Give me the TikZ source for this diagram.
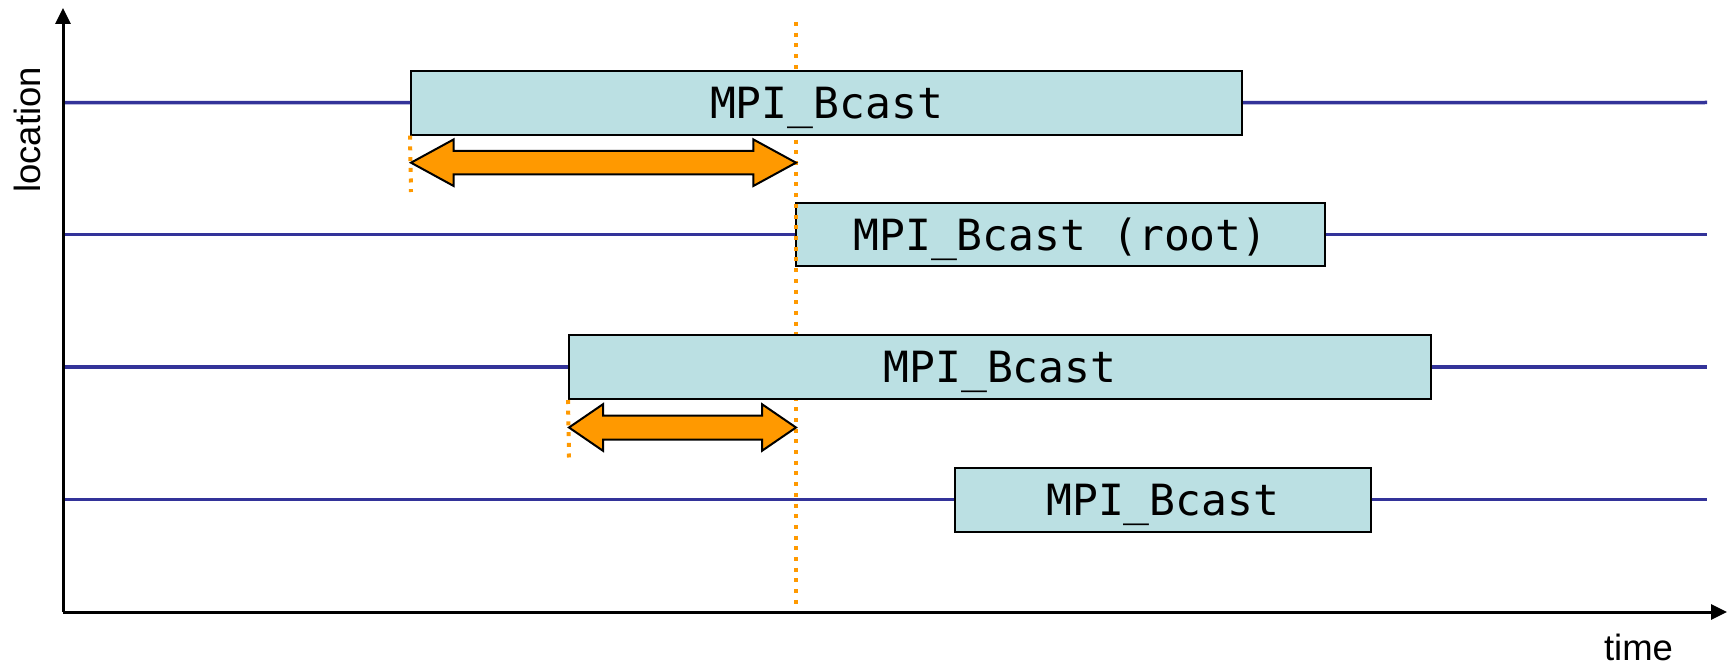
\documentclass[tikz,border=0pt]{standalone}
\usepackage{fontspec}
\setmainfont{Liberation Sans}
\newfontfamily\monofnt{DejaVu Sans Mono}
\usetikzlibrary{arrows.meta}
\definecolor{lifeblue}{HTML}{333399}
\definecolor{boxfill}{HTML}{BBE0E3}
\definecolor{dotorange}{HTML}{FF9900}
\begin{document}
\begin{tikzpicture}[x=1pt,y=-1pt,
  callbox/.style={draw=black, line width=2pt, fill=boxfill, inner sep=0pt,
    text height=31.3pt, text depth=0pt,
    font=\monofnt\fontsize{43}{50}\selectfont},
  lifeline/.style={lifeblue, line width=3.5pt},
  axisline/.style={black, line width=3pt, -{Triangle[length=16pt,width=15pt]}},
  dotline/.style={dotorange, line width=4pt, dash pattern=on 4pt off 6.7pt},
  fatarrow/.style={draw=black, fill=dotorange, line width=2pt, line join=miter},
  axislabel/.style={inner sep=0pt, font=\fontsize{36.5}{40}\selectfont}]
\useasboundingbox (0,0) rectangle (1733,666);
% axes
\coordinate (origin) at (63,612);
\coordinate (ytop) at (63,8);
\coordinate (xend) at (1727,612);
\coordinate (l1s) at (63,102.5);
\coordinate (l2s) at (63,234.5);
\coordinate (l3s) at (63,367);
\coordinate (l4s) at (63,499.5);
\coordinate (l1e) at (1707,102.5);
\coordinate (l2e) at (1707,234.5);
\coordinate (l3e) at (1707,367);
\coordinate (l4e) at (1707,499.5);
% root box first (dotted line passes over its left edge)
\node[callbox, minimum width=529pt, minimum height=63pt] (b2) at (1060.5,234.5) {MPI\_Bcast (root)};
% vertical dotted line
\coordinate (dtop) at (796,22);
\coordinate (dbot) at (796,611);
\draw[dotline] (dtop) -- (dbot);
% other boxes
\node[callbox, minimum width=831pt, minimum height=64pt] (b1) at (826.5,102.7) {MPI\_Bcast};
\node[callbox, minimum width=862pt, minimum height=64pt] (b3) at (1000,367) {MPI\_Bcast};
\node[callbox, minimum width=415.5pt, minimum height=64pt] (b4) at (1162.75,499.5) {MPI\_Bcast};
% life lines
\draw[lifeline] (l1s) -- (b1.west);
\draw[lifeline] (b1.east) -- (l1e);
\draw[lifeline] (l2s) -- (b2.west);
\draw[lifeline] (b2.east) -- (l2e);
\draw[lifeline] (l3s) -- (b3.west);
\draw[lifeline] (b3.east) -- (l3e);
\draw[lifeline] (l4s) -- (b4.west);
\draw[lifeline] (b4.east) -- (l4e);
% short dotted lines
\coordinate (d1e) at (411,192);
\coordinate (d3e) at (569,457.5);
\draw[dotline] (b1.south west) -- (d1e);
\draw[dotline] (b3.south west) -- (d3e);
% fat double arrows
\draw[fatarrow] (411,162.7) -- (453.7,139.4) -- (453.7,151) -- (753.3,151) -- (753.3,139.4)
  -- (796,162.7) -- (753.3,186) -- (753.3,174.4) -- (453.7,174.4) -- (453.7,186) -- cycle;
\draw[fatarrow] (569,427.5) -- (603,404.2) -- (603,415.5) -- (762,415.5) -- (762,404.2)
  -- (796,427.5) -- (762,450.8) -- (762,439.5) -- (603,439.5) -- (603,450.8) -- cycle;
% axes
\draw[axisline] (origin) -- (ytop);
\draw[axisline] (origin) -- (xend);
\node[axislabel, rotate=90] (ylab) at (27,130) {location};
\node[axislabel] (xlab) at (1638.5,647.5) {time};
\end{tikzpicture}
\end{document}
